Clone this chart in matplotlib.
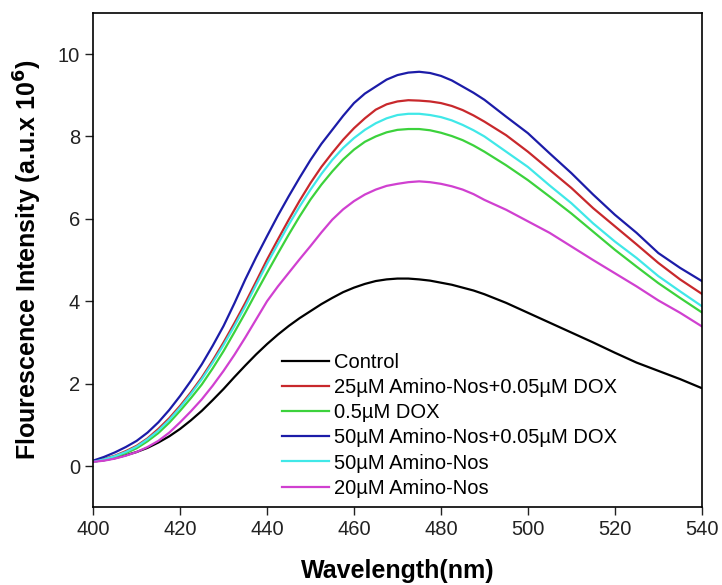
"""
Fluorescence emission spectra
"""
import numpy as np
import matplotlib
matplotlib.use('Agg')
import matplotlib.pyplot as plt

plt.rcParams['font.family'] = ['Liberation Sans', 'DejaVu Sans']

# 2.5 nm steps up to 490 nm, then 5 nm steps
wavelength = [400, 402.5, 405, 407.5, 410, 412.5, 415, 417.5, 420, 422.5, 425, 427.5, 430,
              432.5, 435, 437.5, 440, 442.5, 445, 447.5, 450, 452.5, 455, 457.5, 460, 462.5,
              465, 467.5, 470, 472.5, 475, 477.5, 480, 482.5, 485, 487.5, 490,
              495, 500, 505, 510, 515, 520, 525, 530, 535, 540]

control = [0.11, 0.14, 0.19, 0.26, 0.34, 0.44, 0.57, 0.72, 0.90, 1.11, 1.34, 1.60, 1.87,
           2.16, 2.44, 2.71, 2.96, 3.19, 3.40, 3.59, 3.76, 3.93, 4.08, 4.22, 4.33, 4.42,
           4.49, 4.53, 4.55, 4.55, 4.53, 4.50, 4.45, 4.40, 4.33, 4.26, 4.17,
           3.96, 3.72, 3.48, 3.24, 3.00, 2.75, 2.51, 2.31, 2.11, 1.89]
amino25_dox = [0.11, 0.17, 0.25, 0.36, 0.49, 0.67, 0.90, 1.16, 1.46, 1.79, 2.15, 2.56, 3.00,
               3.47, 3.96, 4.48, 5.01, 5.50, 5.98, 6.44, 6.87, 7.26, 7.60, 7.92, 8.20, 8.44,
               8.65, 8.78, 8.85, 8.88, 8.87, 8.85, 8.81, 8.74, 8.64, 8.51, 8.36,
               8.03, 7.63, 7.19, 6.75, 6.26, 5.82, 5.38, 4.93, 4.53, 4.18]
dox = [0.10, 0.15, 0.22, 0.31, 0.43, 0.60, 0.80, 1.05, 1.34, 1.65, 1.98, 2.37, 2.79,
       3.25, 3.72, 4.21, 4.69, 5.16, 5.62, 6.06, 6.47, 6.83, 7.15, 7.44, 7.68, 7.87,
       8.00, 8.10, 8.16, 8.18, 8.18, 8.15, 8.09, 8.01, 7.91, 7.78, 7.63,
       7.30, 6.94, 6.54, 6.13, 5.69, 5.25, 4.84, 4.44, 4.08, 3.73]
amino50_dox = [0.13, 0.22, 0.33, 0.46, 0.61, 0.81, 1.06, 1.36, 1.70, 2.07, 2.47, 2.92, 3.40,
               3.95, 4.53, 5.07, 5.58, 6.08, 6.55, 7.00, 7.43, 7.82, 8.16, 8.50, 8.81, 9.04,
               9.21, 9.38, 9.49, 9.55, 9.57, 9.54, 9.47, 9.36, 9.21, 9.06, 8.89,
               8.48, 8.08, 7.59, 7.11, 6.59, 6.10, 5.66, 5.17, 4.81, 4.49]
amino50 = [0.10, 0.16, 0.24, 0.34, 0.47, 0.65, 0.86, 1.12, 1.42, 1.75, 2.11, 2.51, 2.94,
           3.40, 3.88, 4.40, 4.91, 5.39, 5.86, 6.30, 6.71, 7.09, 7.43, 7.72, 7.96, 8.16,
           8.32, 8.44, 8.52, 8.55, 8.55, 8.52, 8.47, 8.39, 8.28, 8.15, 8.00,
           7.63, 7.26, 6.81, 6.38, 5.89, 5.45, 5.05, 4.61, 4.24, 3.88]
amino20 = [0.10, 0.13, 0.18, 0.25, 0.34, 0.46, 0.61, 0.81, 1.06, 1.33, 1.62, 1.95, 2.31,
           2.70, 3.12, 3.56, 4.00, 4.36, 4.69, 5.02, 5.34, 5.67, 5.98, 6.23, 6.43, 6.59,
           6.71, 6.80, 6.85, 6.89, 6.91, 6.89, 6.85, 6.79, 6.71, 6.60, 6.46,
           6.22, 5.94, 5.66, 5.33, 5.00, 4.68, 4.36, 4.02, 3.72, 3.39]

labels = ['Control', '25µM Amino-Nos+0.05µM DOX', '0.5µM DOX',
          '50µM Amino-Nos+0.05µM DOX', '50µM Amino-Nos', '20µM Amino-Nos']
colors = ['black', '#C8282C', '#3CD23C', '#1C1CA8', '#40E8E8', '#D040D0']
series = [control, amino25_dox, dox, amino50_dox, amino50, amino20]

fig = plt.figure(figsize=(7.22, 5.85), dpi=100)
ax = fig.add_axes([0.129, 0.133, 0.843, 0.845])

for y, c, lab in zip(series, colors, labels):
    ax.plot(wavelength, y, color=c, lw=1.6, label=lab)

ax.set_xlim(400, 540)
ax.set_ylim(-1, 11)
ax.set_xticks(np.arange(400, 541, 20))
ax.set_yticks(np.arange(0, 11, 2))
ax.tick_params(direction='out', length=6, width=1, labelsize=14.5, colors='#222222',
               top=False, right=False)
for s in ax.spines.values():
    s.set_linewidth(1.2)

ax.set_xlabel('Wavelength(nm)', fontsize=18, fontweight='bold', labelpad=14)
ax.set_ylabel('Flourescence Intensity (a.u.x 10$^{\\mathbf{6}}$)', fontsize=18,
              fontweight='bold', labelpad=10)

ax.legend(loc='lower left', bbox_to_anchor=(0.29, -0.005), frameon=False, fontsize=14.5,
          handlelength=2.35, handletextpad=0.25, labelspacing=0.3, borderaxespad=0.2)

plt.savefig('out.png', dpi=100)
